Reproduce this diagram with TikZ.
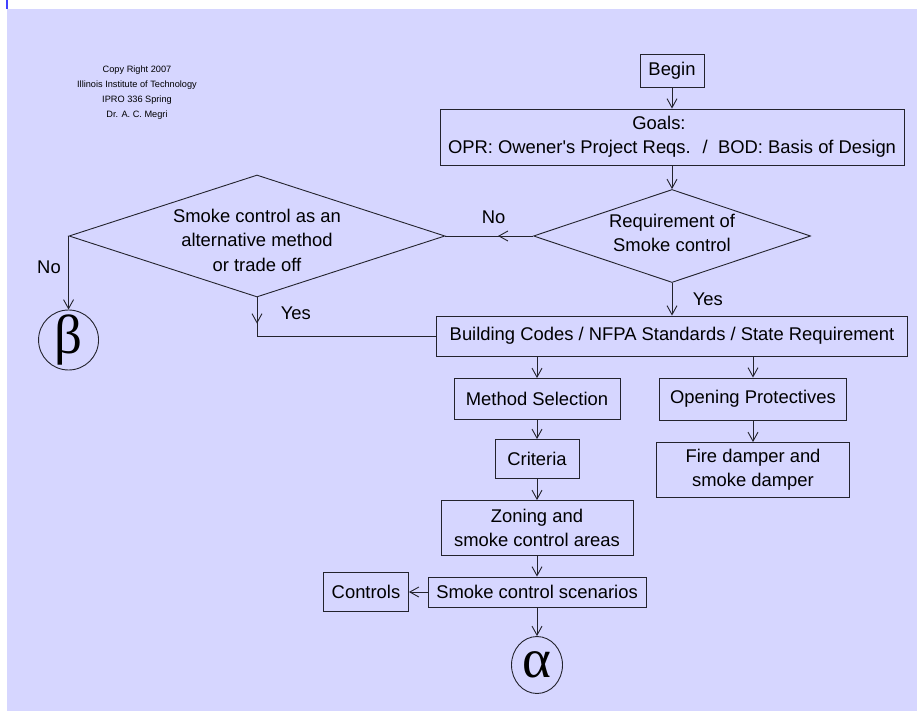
\documentclass[tikz,border=0pt]{standalone}
\usepackage{fontspec}
\setmainfont{Liberation Sans}
\newfontfamily\greekfont{Liberation Serif}
\usetikzlibrary{positioning,shapes.geometric,arrows.meta,decorations.markings}
\definecolor{slide}{RGB}{214,214,255}
\definecolor{edge}{RGB}{35,35,45}
\tikzset{
	block/.style={draw=edge, line width=0.9pt, align=center, inner sep=0pt, font=\fontsize{18.4}{24}\selectfont},
	decision/.style={diamond, draw=edge, line width=0.9pt, inner sep=0pt},
	dtext/.style={align=center, inner sep=0pt, font=\fontsize{18.4}{24.5}\selectfont},
	greek/.style={draw=edge, line width=0.9pt, inner sep=0pt, font=\greekfont\fontsize{55}{55}\selectfont},
	lbl/.style={font=\fontsize{18.4}{22}\selectfont},
	midarrow/.style={postaction={decorate, decoration={markings, mark=at position #1 with {\arrow{>}}}}},
}
\begin{document}
\begin{tikzpicture}[x=1pt, y=-1pt, >={Straight Barb[length=9pt,width=10pt]}, line width=0.9pt, node distance=60pt]

		\fill[slide] (7,9) rectangle (917,711);
		\useasboundingbox (0,0) rectangle (917,711);
		\draw[blue!75, line width=1.5pt] (7,0) -- (7,9);

		\node(copy) at (137,93) [align=center, font=\fontsize{9.2}{15}\selectfont] {Copy Right 2007\\Illinois Institute of Technology\\IPRO 336 Spring\\Dr. A. C. Megri};

		\node(begin) at (672,70.5) [block, minimum width=64pt, minimum height=33pt] {Begin};
		\node(goals) [block, below of = begin, node distance=66.5pt, minimum width=464pt, minimum height=56pt] {Goals:\hspace*{26pt}\\OPR: Owener\textquotesingle s Project Reqs. \ / \ BOD: Basis of Design};
		\node(req) [decision, below of = goals, node distance=99pt, minimum width=277pt, minimum height=93pt,
			label={[dtext, yshift=3pt]center:Requirement of\\Smoke control}] {};
		\node(alt) [decision, left of = req, node distance=415pt, minimum width=376pt, minimum height=122pt,
			label={[dtext, yshift=-4pt]center:Smoke control as an\\alternative method\\or trade off}] {};
		\node(beta) at ([yshift=-104pt]alt.west) [greek, circle, minimum size=60pt] {β};
		\node(build) [block, below of = req, node distance=100pt, minimum width=471pt, minimum height=40pt] {Building Codes / NFPA Standards / State Requirement};
		\node(meth) [block, below of = build, node distance=63pt, xshift=-135pt, minimum width=166pt, minimum height=41pt] {Method Selection};
		\node(open) [block, right of = meth, node distance=216pt, minimum width=187pt, minimum height=42pt] {Opening Protectives};
		\node(crit) [block, below of = meth, node distance=60pt, minimum width=84pt, minimum height=39pt] {Criteria};
		\node(fire) [block, below of = open, node distance=71pt, minimum width=193pt, minimum height=55pt] {Fire damper and\\smoke damper};
		\node(zone) [block, below of = crit, node distance=69pt, minimum width=192pt, minimum height=55pt] {Zoning and\\smoke control areas};
		\node(scen) [block, below of = zone, node distance=64pt, minimum width=218pt, minimum height=30pt] {Smoke control scenarios};
		\node(ctrl) [block, left of = scen, node distance=171pt, minimum width=85pt, minimum height=39pt] {Controls};
		\node(alpha) [greek, ellipse, below of = scen, node distance=73pt, minimum width=51pt, minimum height=57pt] {α};

		\draw[->, draw=edge] (begin) -- (goals);
		\draw[->, draw=edge] (goals) -- (req);
		\draw[draw=edge, midarrow=0.4] (req) -- node[lbl, pos=0.45, above=9pt] {No} (alt);
		\draw[->, draw=edge] (alt.west) -- node[lbl, pos=0.42, left=4pt] {No} (beta);
		\draw[draw=edge, midarrow=0.12] (alt.south) |- node[lbl, pos=0.2, right=20pt] {Yes} (build.west);
		\draw[->, draw=edge] (req) -- node[lbl, midway, right=17pt] {Yes} (build);
		\draw[->, draw=edge] (build.south -| meth) -- (meth);
		\draw[->, draw=edge] (build.south -| open) -- (open);
		\draw[->, draw=edge] (meth) -- (crit);
		\draw[->, draw=edge] (open) -- (fire);
		\draw[->, draw=edge] (crit) -- (zone);
		\draw[->, draw=edge] (zone) -- (scen);
		\draw[->, draw=edge] (scen) -- (ctrl);
		\draw[->, draw=edge] (scen) -- (alpha);

	\end{tikzpicture}
\end{document}
